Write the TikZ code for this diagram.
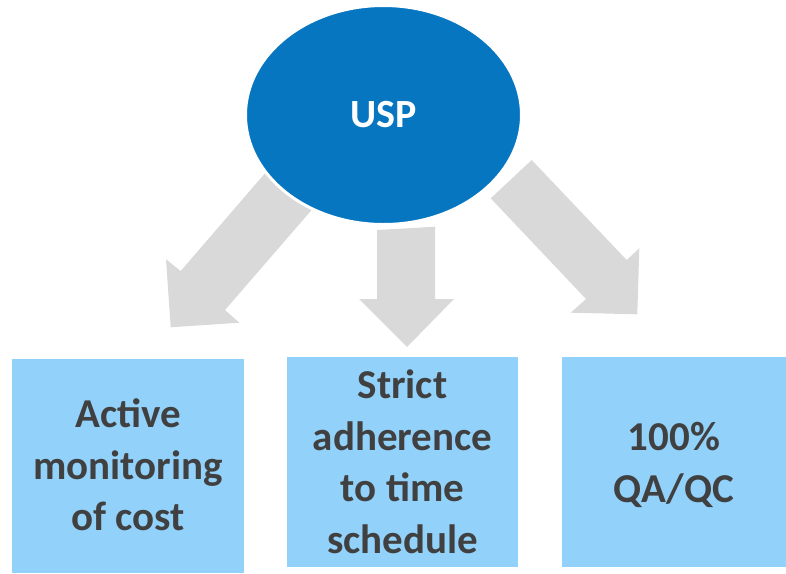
\documentclass[tikz,border=0pt]{standalone}
\usepackage{fontspec}
\setmainfont{Carlito}
\usetikzlibrary{shapes.geometric}
\definecolor{uspblue}{RGB}{6,118,192}
\definecolor{boxblue}{RGB}{145,209,250}
\definecolor{arrowgray}{RGB}{217,217,217}
\definecolor{textgray}{RGB}{64,64,64}
\tikzset{
  blockarrow/.style={fill=arrowgray, draw=none},
  infobox/.style={fill=boxblue, draw=none},
  boxtext/.style={text=textgray, font=\fontsize{41}{51.5}\selectfont\bfseries, align=center, inner sep=0pt},
  usp/.style={ellipse, fill=uspblue, draw=white, line width=3pt, minimum width=276pt, minimum height=219pt, inner sep=0pt,
    text=white, font=\fontsize{40}{48}\selectfont\bfseries}
}
\begin{document}
\begin{tikzpicture}[x=1pt,y=-1pt]
\useasboundingbox (0,0) rectangle (786,573);
% block arrows
\draw[blockarrow] (273,164) -- (325.8,193.6) -- (225,310) -- (239.3,322.7) -- (170.7,327.3) -- (166,259.3) -- (180.7,271) -- cycle;
\draw[blockarrow] (377,230) -- (435,226.7) -- (435,299) -- (454,299) -- (407,347) -- (359,299) -- (377,299) -- cycle;
\draw[blockarrow] (490.7,198.3) -- (531.7,160) -- (626.7,260) -- (639.3,248.3) -- (637.3,314.3) -- (570.7,312.7) -- (586,299) -- cycle;
% ellipse
\node[usp] (usp) at (383.5,115) {USP};
% boxes
\fill[infobox] (12,359) rectangle (244,573);
\fill[infobox] (287,357) rectangle (518,567);
\fill[infobox] (562,357) rectangle (786,567);
\node[boxtext] (b1) at (128,465) {Active\\monitoring\\of cost};
\node[boxtext] (b2) at (402.5,462) {Strict\\adherence\\to time\\schedule};
\node[boxtext] (b3) at (674,465) {100\%\\QA/QC};
\end{tikzpicture}
\end{document}
